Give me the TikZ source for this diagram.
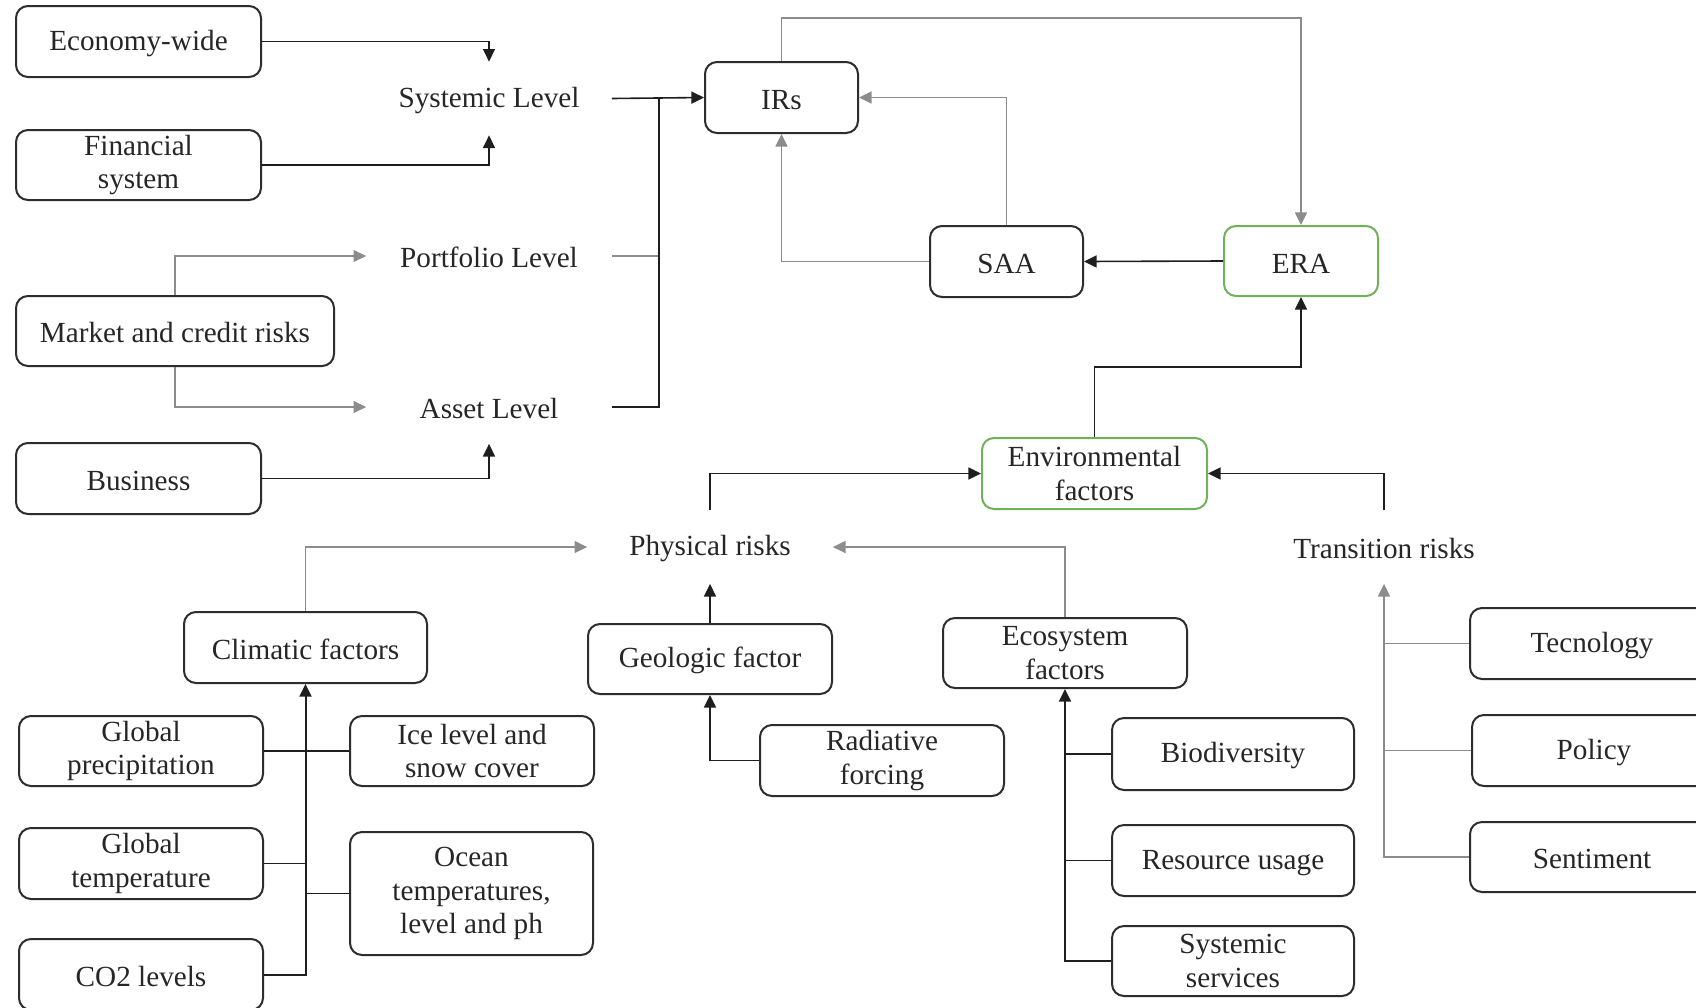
\documentclass[tikz,border=0pt]{standalone}
\usepackage{fontspec}
\setmainfont{Liberation Serif}
\usetikzlibrary{arrows.meta,calc}
\definecolor{boxline}{RGB}{45,45,45}
\definecolor{envgreen}{RGB}{112,178,90}
\definecolor{darkln}{RGB}{30,30,30}
\definecolor{greyln}{RGB}{140,140,140}
\tikzset{
  box/.style={draw=boxline, line width=1pt, rounded corners=6pt, align=center, inner sep=0pt, font=\fontsize{14.6}{16.8}\selectfont, text=black!85, execute at begin node={\rule{0pt}{12pt}}},
  gbox/.style={box, draw=envgreen},
  lbl/.style={inner sep=0pt, minimum width=122.5pt, minimum height=36.5pt, font=\fontsize{14.6}{16.8}\selectfont, text=black!85, execute at begin node={\rule{0pt}{12pt}}},
  dk/.style={draw=darkln, line width=0.8pt},
  gy/.style={draw=greyln, line width=0.7pt},
  arr/.style={-{Triangle[length=6.3pt,width=6pt]}},
}
\newcommand{\bx}[5]{\node[#1, minimum width=#4*0.5pt, minimum height=#5*0.5pt] (#2) at (#3)}
\begin{document}
\begin{tikzpicture}[x=0.5pt,y=-0.5pt]
\useasboundingbox (0,0) rectangle (1696,1007);
\clip (0,0) rectangle (1696,1007);
\fill[white] (0,0) rectangle (1696,1007);
% boxes
\bx{box}{eco}{138.5,41.5}{245}{71} {Economy-wide};
\bx{box}{fin}{138.5,165}{245}{70} {Financial\\system};
\bx{box}{mkt}{175,331}{318}{70} {Market and credit risks};
\bx{box}{bus}{138.5,478.5}{245}{71} {Business};
\bx{box}{irs}{781.5,97.5}{153}{71} {IRs};
\bx{box}{saa}{1006.5,261.5}{153}{71} {SAA};
\bx{gbox}{era}{1301,261}{154}{70} {ERA};
\bx{gbox}{env}{1094.5,473.5}{225}{71} {Environmental\\factors};
\bx{box}{clim}{305.5,647.5}{243}{71} {Climatic factors};
\bx{box}{geo}{710,659}{244}{70} {Geologic factor};
\bx{box}{rad}{882,760.5}{244}{71} {Radiative\\forcing};
\bx{box}{ecos}{1065,653}{244}{70} {Ecosystem\\factors};
\bx{box}{bio}{1233,754}{242}{72} {Biodiversity};
\bx{box}{res}{1233,860.5}{242}{71} {Resource usage};
\bx{box}{syss}{1233,961}{242}{70} {Systemic\\services};
\bx{box}{tec}{1592,643.5}{244}{71} {Tecnology};
\bx{box}{pol}{1594,750.5}{244}{71} {Policy};
\bx{box}{sen}{1592,857}{244}{70} {Sentiment};
\bx{box}{gp}{141,751}{244}{70} {Global\\precipitation};
\bx{box}{ice}{472,751}{244}{70} {Ice level and\\snow cover};
\bx{box}{gt}{141,863.5}{244}{71} {Global\\temperature};
\bx{box}{ocean}{471.5,893.5}{243}{123} {Ocean\\temperatures,\\level and ph};
\bx{box}{co2}{141,974.5}{244}{71} {CO2 levels};
% labels
\node[lbl] (sys) at (489,98.5) {Systemic Level};
\node[lbl] (port) at (489,256) {Portfolio Level};
\node[lbl] (asset) at (489,407) {Asset Level};
\node[lbl] (phys) at (710,547) {Physical risks};
\node[lbl] (trans) at (1384,547) {Transition risks};
\coordinate (j) at (659,98);
% upper-left connectors
\draw[dk,arr] (eco.east) -| (sys.north);
\draw[dk,arr] (fin.east) -| (sys.south);
\draw[gy,arr] (mkt.north) |- (port.west);
\draw[gy,arr] (mkt.south) |- (asset.west);
\draw[dk,arr] (bus.east) -| (asset.south);
\draw[dk,arr] (sys.east) -- (irs.west);
\draw[gy] (port.east) -- (port.east -| j);
\draw[dk] (asset.east) -| (j);
% top right
\draw[gy,arr] (irs.north) -- ++(0,-43) -| (era.north);
\draw[gy,arr] (saa.north) |- (irs.east);
\draw[gy,arr] (saa.west) -| (irs.south);
\draw[dk,arr] (era.west) -- (saa.east);
\draw[dk,arr] (env.north) -- ++(0,-70) -| (era.south);
\draw[dk,arr] (phys.north) |- (env.west);
\draw[dk,arr] (trans.north) |- (env.east);
% physical risks
\draw[gy,arr] (clim.north) |- (phys.west);
\draw[dk,arr] (geo.north) -- (phys.south);
\draw[dk,arr] (rad.west) -| (geo.south);
\draw[gy,arr] (ecos.north) |- (phys.east);
% climatic bus
\draw[dk,line width=1pt,arr] (co2.east) -| (clim.south);
\draw[dk] (gp.east) -- (ice.west);
\draw[dk] (gt.east) -- (gt.east -| clim.south);
\draw[dk] (ocean.west) -- (ocean.west -| clim.south);
% ecosystem bus
\draw[dk,arr] (syss.west) -| (ecos.south);
\draw[dk] (bio.west) -- (bio.west -| ecos.south);
\draw[dk] (res.west) -- (res.west -| ecos.south);
% transition bus
\draw[gy,arr] (sen.west) -| (trans.south);
\draw[gy] (tec.west) -- (tec.west -| trans.south);
\draw[gy] (pol.west) -- (pol.west -| trans.south);
\end{tikzpicture}
\end{document}
